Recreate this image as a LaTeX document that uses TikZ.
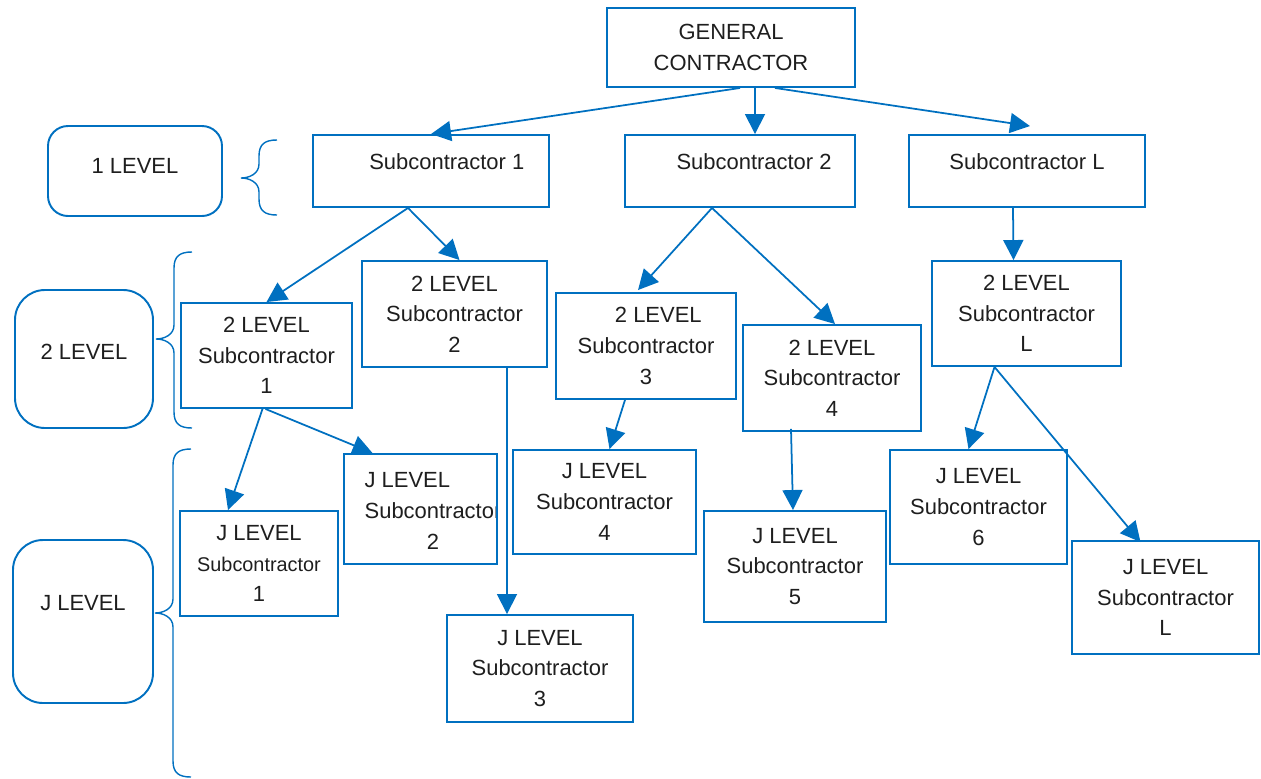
\documentclass[tikz,border=0pt]{standalone}
\usepackage{fontspec}
\setmainfont{Liberation Sans}
\usetikzlibrary{arrows.meta,calc}

\definecolor{boxblue}{RGB}{0,112,192}
\definecolor{inkgray}{RGB}{30,30,30}

% curly brace: x of the ends, top, tip, bottom
\newcommand{\lvlbrace}[4]{%
  \draw[bracestyle] (#1,#2) .. controls (#1-12,#2) and (#1-18,#2+4) .. (#1-18,#2+16)
    -- (#1-18,#3-14) .. controls (#1-18,#3-4) and (#1-28,#3) .. (#1-36,#3)
    .. controls (#1-28,#3) and (#1-18,#3+4) .. (#1-18,#3+14)
    -- (#1-18,#4-16) .. controls (#1-18,#4-4) and (#1-12,#4) .. (#1,#4);}
\newcommand{\jsize}{\fontsize{11.3}{16.5}\selectfont}

\begin{document}
\begin{tikzpicture}[x=0.02cm, y=-0.02cm,
    font=\fontsize{12.5}{17.4}\selectfont, text=inkgray,
    box/.style={draw=boxblue, line width=1.1pt, align=center, inner sep=0pt},
    sz/.style 2 args={minimum width=#1*0.02cm, minimum height=#2*0.02cm},
    raised/.style={text height=9pt, text depth=#1},
    arr/.style={draw=boxblue, line width=1pt, -{Triangle[length=0.4cm,width=0.4cm]}},
    bracestyle/.style={draw=boxblue, line width=0.8pt}]
\useasboundingbox (0,0) rectangle (1261,778);

% top of the tree
\node[box, sz={248}{79}] (gc) at (731,47.5) {GENERAL\\CONTRACTOR};
\node[box, sz={236}{72}, raised=10.2pt] (s1) at (431,171) {\hspace*{18pt}Subcontractor 1};
\node[box, sz={230}{72}, raised=10.2pt] (s2) at (740,171) {\hspace*{16pt}Subcontractor 2};
\node[box, sz={236}{72}, raised=10.2pt] (sL) at (1027,171) {Subcontractor L};

% level labels
\node[box, sz={174}{90}, rounded corners=0.4cm, raised=5.7pt] (l1) at (135,171) {1 LEVEL};
\node[box, sz={138}{138}, rounded corners=0.6cm, raised=8pt] (l2) at (84,359) {2 LEVEL};
\node[box, sz={140}{163}, rounded corners=0.6cm, raised=21pt] (lJ) at (83,621.5) {J LEVEL};

\lvlbrace{277}{140}{178}{215}
\lvlbrace{192}{252}{339}{428}
\lvlbrace{191}{449}{613}{777}

% 2 level
\node[box, sz={171}{105}] (b1) at (266.5,355.5) {2 LEVEL\\Subcontractor\\1};
\node[box, sz={185}{106}] (b2) at (454.5,314) {2 LEVEL\\Subcontractor\\2};
\node[box, sz={180}{106}] (b3) at (646,346) {\hspace*{14pt}2 LEVEL\\Subcontractor\\3};
\node[box, sz={178}{106}] (b4) at (832,378) {2 LEVEL\\Subcontractor\\4};
\node[box, sz={189}{105}] (bL) at (1026.5,313.5) {2 LEVEL\\Subcontractor\\L};

% J level
\node[box, sz={158}{105}] (j1) at (259,563.5) {J LEVEL\\\jsize Subcontractor\\1};
\node[box, sz={153}{110}, path picture={
    \node[draw=none, fill=none, align=center, inner sep=0pt, minimum size=0pt]
      at ($(path picture bounding box.center)+(12.5,1.5)$)
      {\rlap{J LEVEL}\phantom{Subcontractor}\\Subcontractor\\2};}] (j2) at (420.5,509) {};
\node[box, sz={186}{107}] (j3) at (540,668.5) {J LEVEL\\Subcontractor\\3};
\node[box, sz={183}{104}] (j4) at (604.5,502) {J LEVEL\\Subcontractor\\4};
\node[box, sz={182}{111}] (j5) at (795,566.5) {J LEVEL\\Subcontractor\\5};
\node[box, sz={177}{114}] (j6) at (978.5,507) {J LEVEL\\Subcontractor\\6};
\node[box, sz={187}{113}] (jL) at (1165.5,597.5) {J LEVEL\\Subcontractor\\L};

% arrows
\draw[arr] ($(gc.south)+(9,0)$) -- (s1.north);
\draw[arr] ($(gc.south)+(24,0)$) -- ($(s2.north)+(15,0)$);
\draw[arr] ($(gc.south)+(44,0)$) -- ($(sL.north)+(3,-8)$);
\draw[arr] ($(s1.south)+(-23,0)$) -- (b1.north);
\draw[arr] ($(s1.south)+(-23,0)$) -- ($(b2.north)+(5,0)$);
\draw[arr] ($(s2.south)+(-28,0)$) -- ($(b3.north)+(-8,-2)$);
\draw[arr] ($(s2.south)+(-28,0)$) -- ($(b4.north)+(3,0)$);
\draw[arr] ($(sL.south)+(-14,0)$) -- ($(bL.north)+(-13,0)$);
\draw[arr] ($(b1.south)+(-4,0)$) -- ($(j1.north)+(-31,0)$);
\draw[arr] ($(b1.south)+(-1,0)$) -- ($(j2.north)+(-48,0)$);
\draw[arr] ($(b2.south)+(52.5,-1)$) -- ($(j3.north)+(-33,0)$);
\draw[arr] ($(b3.south)+(-21,0)$) -- ($(j4.north)+(5,0)$);
\draw[arr] ($(b4.south)+(-41,-3)$) -- ($(j5.north)+(-2,0)$);
\draw[arr] ($(bL.south)+(-32,0)$) -- ($(j6.north)+(-10,0)$);
\draw[arr] ($(bL.south)+(-32,0)$) -- ($(jL.north)+(-25,2)$);
\end{tikzpicture}
\end{document}
